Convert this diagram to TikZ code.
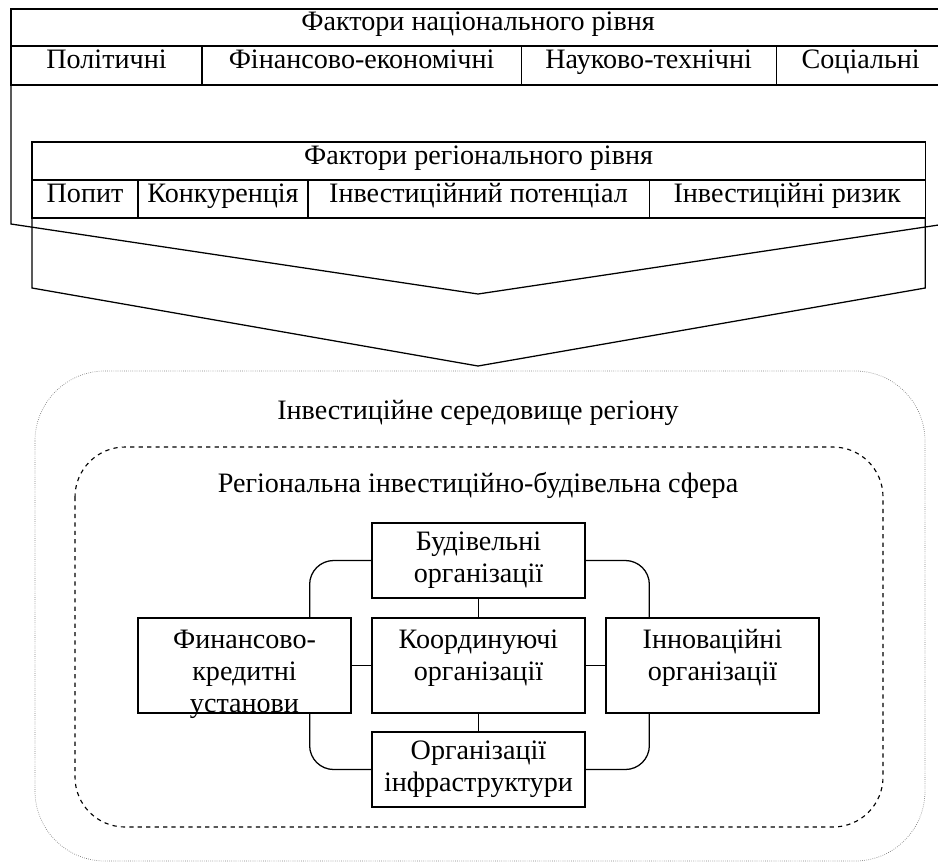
\documentclass[tikz,border=0pt]{standalone}
\usepackage{fontspec}
\setmainfont{Liberation Serif}
\usetikzlibrary{positioning}

\tikzset{
  cell/.style={draw, line width=0.9pt, inner sep=0pt, outer sep=0pt, anchor=north west,
    minimum height=0.95cm, text height=0.7em, text depth=0.22em},
  org/.style={draw, line width=0.9pt, minimum width=5.325cm, align=center, inner sep=0pt},
  orgtext/.style={align=center, inner sep=0pt, anchor=north},
  link/.style={line width=0.9pt, rounded corners=0.6cm},
}

\begin{document}
\begin{tikzpicture}[x=0.025cm, y=-0.025cm, font=\fontsize{20}{22.8}\selectfont]
\useasboundingbox (0,0) rectangle (938,863);

% national level
\node[cell, minimum width=23.35cm, minimum height=0.925cm] (nat) at (11,9) {Фактори національного рівня};
\node[cell, minimum width=4.775cm, minimum height=0.975cm] (pol) at (11,46) {Політичні};
\node[cell, minimum width=7.975cm, minimum height=0.975cm, right=0pt of pol] (finec) {Фінансово-економічні};
\node[cell, minimum width=6.375cm, minimum height=0.975cm, right=0pt of finec] (sci) {Науково-технічні};
\node[cell, minimum width=4.225cm, minimum height=0.975cm, right=0pt of sci] (soc) {Соціальні};
\coordinate (nat-tip) at (478,294);
\draw[line width=0.9pt] (pol.south west) -- (pol.south west |- 0,224) -- (nat-tip)
  -- (soc.south east |- 0,224) -- (soc.south east);

% regional level
\node[cell, minimum width=22.325cm] (reg) at (32,142) {Фактори регіонального рівня};
\node[cell, minimum width=2.65cm] (dem) at (32,180) {Попит};
\node[cell, minimum width=4.25cm, right=0pt of dem] (comp) {Конкуренція};
\node[cell, minimum width=8.525cm, right=0pt of comp] (pot) {Інвестиційний потенціал};
\node[cell, minimum width=6.9cm, right=0pt of pot] (risk) {Інвестиційні ризик};
\coordinate (reg-tip) at (478,366);
\draw[line width=0.9pt] (dem.south west) -- (dem.south west |- 0,288) -- (reg-tip)
  -- (risk.south east |- 0,288) -- (risk.south east);

% environment
\draw[gray, densely dotted, line width=0.5pt, rounded corners=1.75cm] (35,371) rectangle (925,861);
\node (env) at (478,413) {Інвестиційне середовище регіону};
\draw[dashed, line width=0.8pt, rounded corners=1.25cm] (75,447) rectangle (883,827);
\node (sphere) at (478,485) {Регіональна інвестиційно-будівельна сфера};

% organisations
\node[org, minimum height=1.875cm] (bud) at (478.5,560.5) {Будівельні\\організації};
\node[org, minimum height=2.375cm] (coord) at (478.5,665.5) {};
\node[org, minimum height=2.375cm] (fin) at (244.5,665.5) {};
\node[org, minimum height=2.375cm] (innov) at (712.5,665.5) {};
\node[org, minimum height=1.875cm] (infra) at (478.5,769.5) {Організації\\інфраструктури};
\node[orgtext, below=0.3cm of coord.north] (coord-t) {Координуючі\\організації};
\node[orgtext, below=0.3cm of fin.north] (fin-t) {Финансово-\\кредитні\\установи};
\node[orgtext, below=0.3cm of innov.north] (innov-t) {Інноваційні\\організації};

\draw[line width=0.9pt] (bud) -- (coord);
\draw[line width=0.9pt] (coord) -- (infra);
\draw[line width=0.9pt] (fin) -- (coord);
\draw[line width=0.9pt] (coord) -- (innov);
\draw[link] (bud.west) -| ([xshift=-1.05cm]fin.north east);
\draw[link] (bud.east) -| ([xshift=1.1cm]innov.north west);
\draw[link] (infra.west) -| ([xshift=-1.05cm]fin.south east);
\draw[link] (infra.east) -| ([xshift=1.1cm]innov.south west);
\end{tikzpicture}
\end{document}
